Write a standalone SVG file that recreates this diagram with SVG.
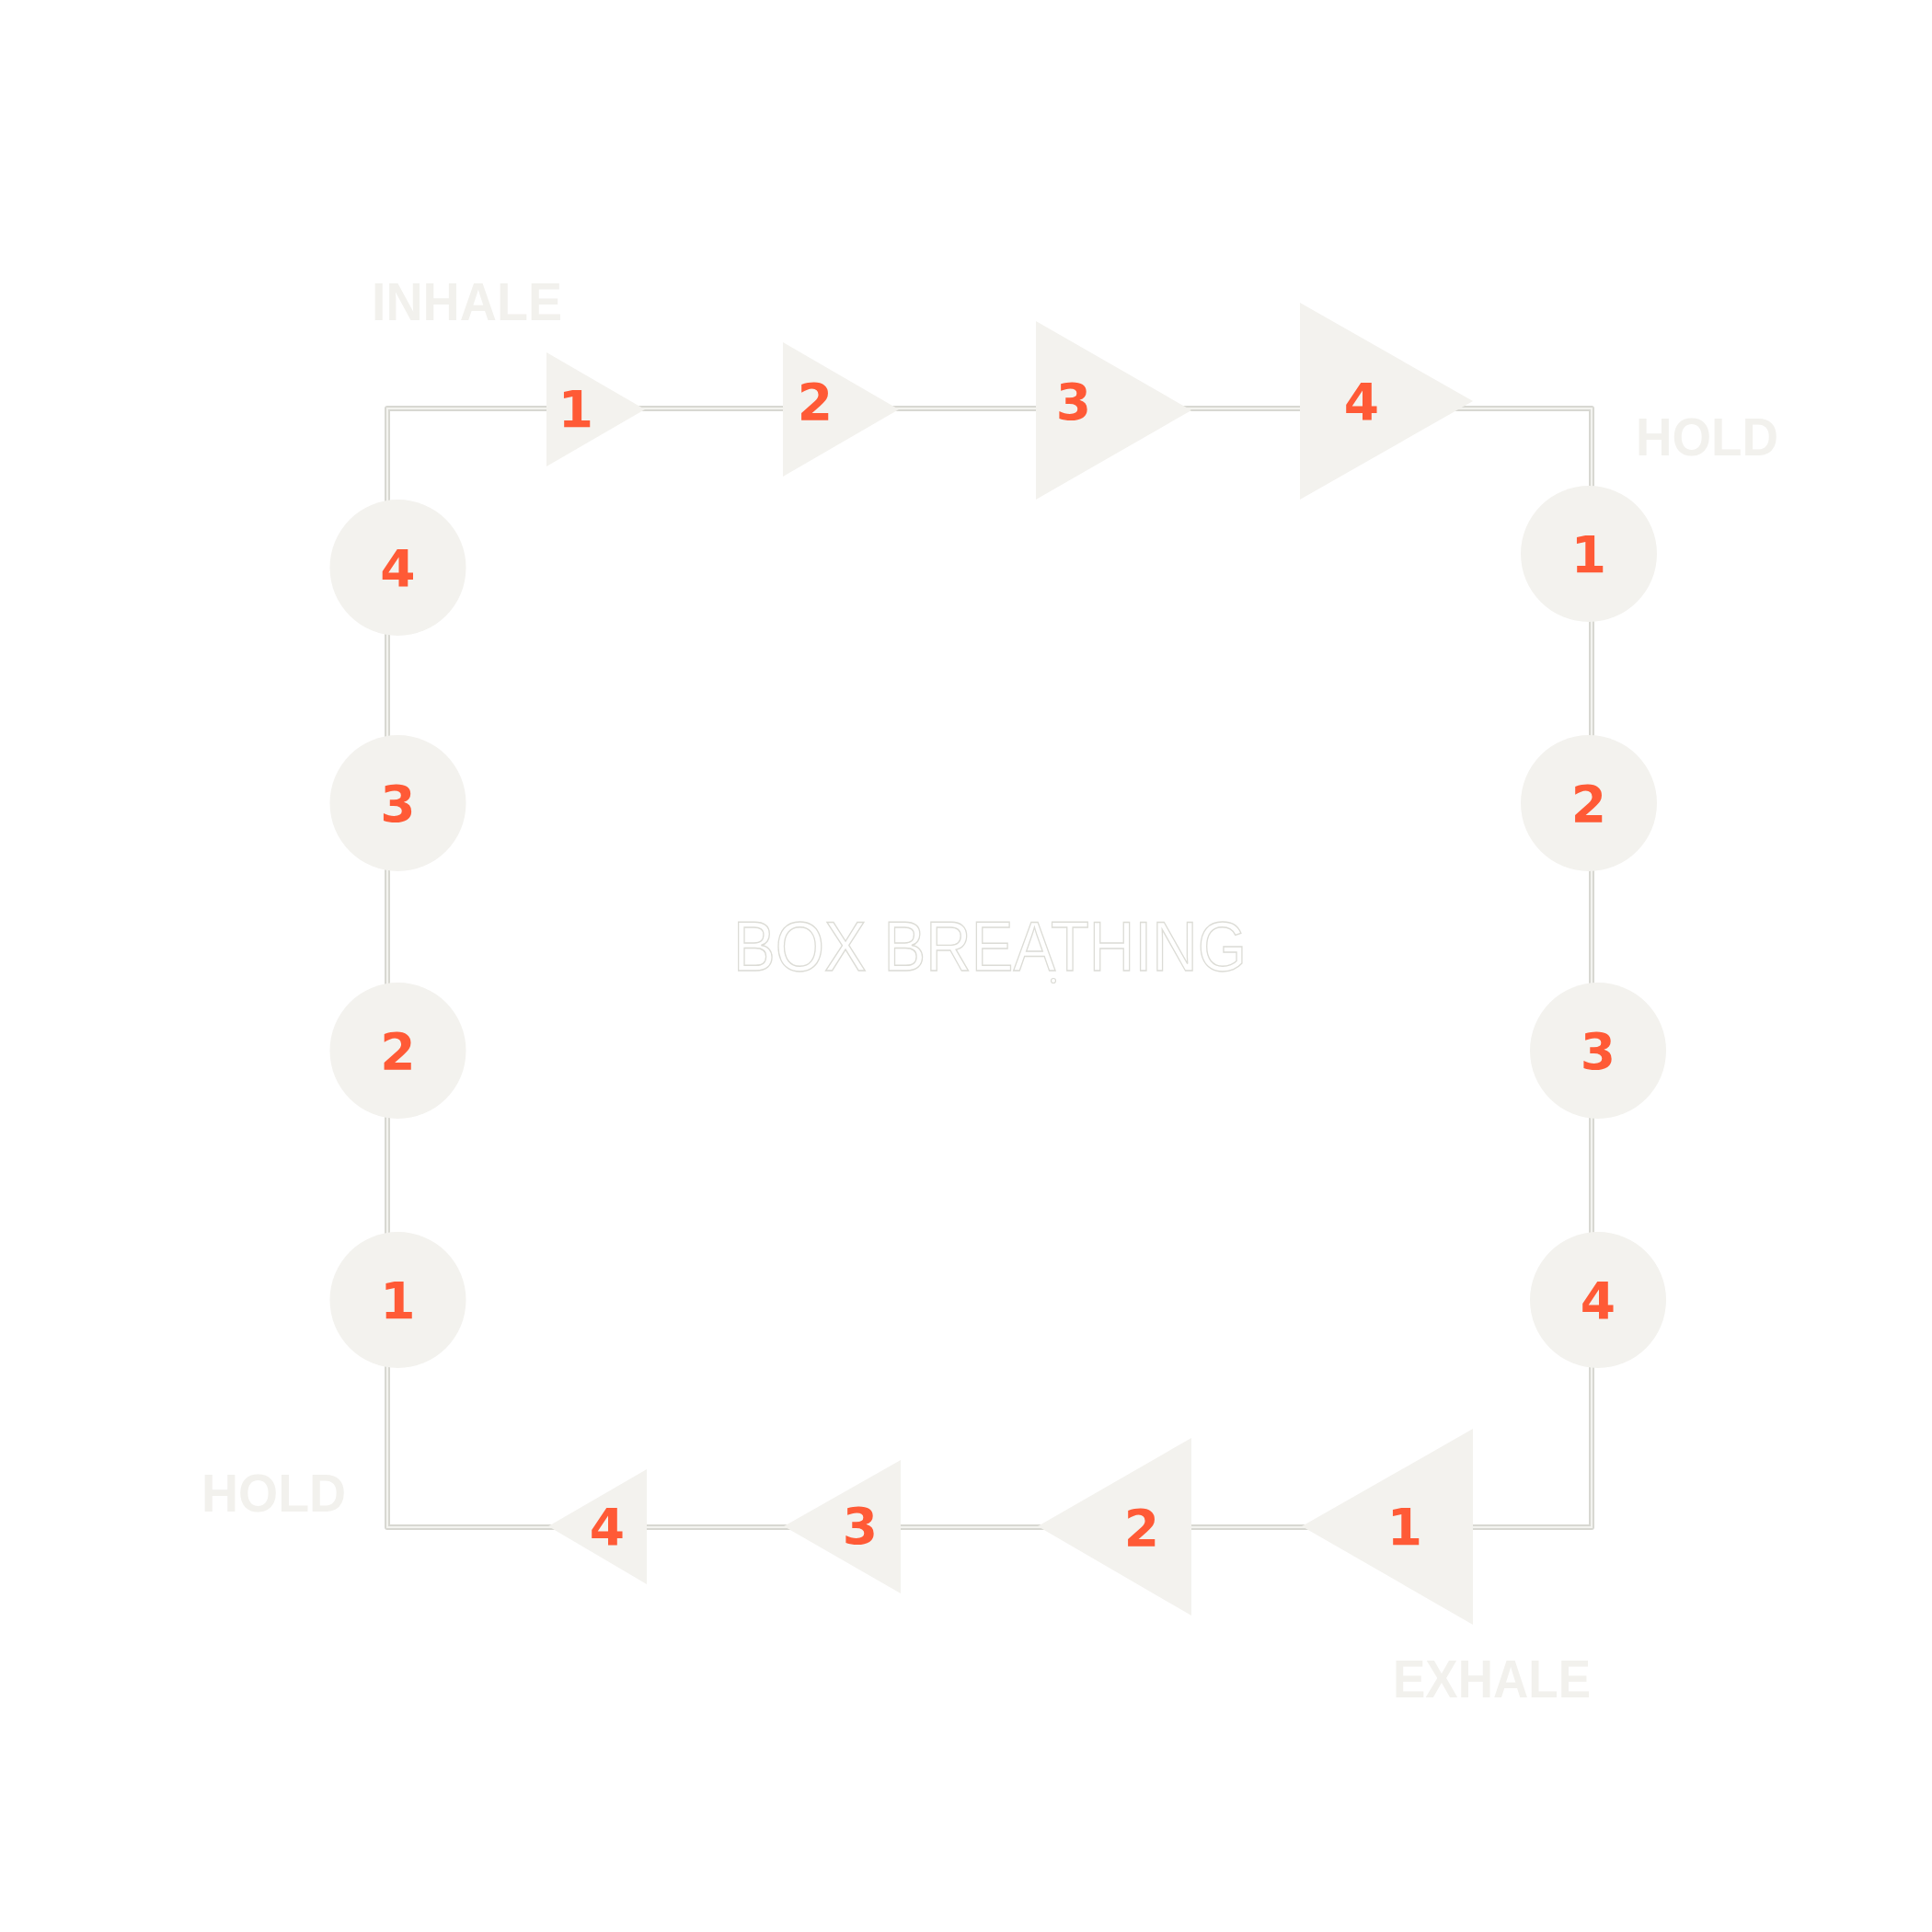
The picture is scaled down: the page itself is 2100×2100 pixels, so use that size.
<svg xmlns="http://www.w3.org/2000/svg" width="2100" height="2100" viewBox="0 0 2100 2100">
<style>
.conn-o{fill:none;stroke:#d8d8d2;stroke-width:6;stroke-linejoin:round}
.conn-i{fill:none;stroke:#f3f3ef;stroke-width:2}
.shape{fill:#f3f2ee}
.num{font-family:"DejaVu Sans",sans-serif;font-weight:bold;font-size:55px;fill:#ff5a36;text-anchor:middle}
.lbl{font-family:"Liberation Sans",Arial,sans-serif;font-weight:bold;font-size:57px;fill:#f2f1ed}
.title{font-family:"Liberation Sans",Arial,sans-serif;font-size:76px;fill:#ffffff;stroke:#dcdcd6;stroke-width:1.4}
</style>
<rect width="2100" height="2100" fill="#ffffff"/>
<g id="connectors">
<path class="conn-o" d="M421,1660 L421,444 L1730,444 L1730,1660 Z"/>
<path class="conn-i" d="M421,1660 L421,444 L1730,444 L1730,1660 Z"/>
</g>
<g id="inhale-1"><polygon class="shape" points="594,383 594,507 701,445"/><text class="num" x="626" y="464">1</text></g>
<g id="inhale-2"><polygon class="shape" points="851,372 851,518 977,445"/><text class="num" x="886" y="456">2</text></g>
<g id="inhale-3"><polygon class="shape" points="1126,349 1126,543 1295,446"/><text class="num" x="1167" y="456">3</text></g>
<g id="inhale-4"><polygon class="shape" points="1413,329 1413,543 1601,436"/><text class="num" x="1480" y="456">4</text></g>
<g id="hold1-1"><circle class="shape" cx="1727" cy="602" r="74"/><text class="num" x="1727" y="622">1</text></g>
<g id="hold1-2"><circle class="shape" cx="1727" cy="873" r="74"/><text class="num" x="1727" y="893">2</text></g>
<g id="hold1-3"><circle class="shape" cx="1737" cy="1142" r="74"/><text class="num" x="1737" y="1162">3</text></g>
<g id="hold1-4"><circle class="shape" cx="1737" cy="1413" r="74"/><text class="num" x="1737" y="1433">4</text></g>
<g id="exhale-1"><polygon class="shape" points="1601,1553 1601,1766 1415,1659"/><text class="num" x="1527" y="1679">1</text></g>
<g id="exhale-2"><polygon class="shape" points="1295,1563 1295,1756 1128,1659"/><text class="num" x="1241" y="1680">2</text></g>
<g id="exhale-3"><polygon class="shape" points="979,1587 979,1732 852,1659"/><text class="num" x="935" y="1678">3</text></g>
<g id="exhale-4"><polygon class="shape" points="703,1597 703,1722 596,1659"/><text class="num" x="660" y="1679">4</text></g>
<g id="hold2-1"><circle class="shape" cx="432.5" cy="1413" r="74"/><text class="num" x="432.5" y="1433">1</text></g>
<g id="hold2-2"><circle class="shape" cx="432.5" cy="1142" r="74"/><text class="num" x="432.5" y="1162">2</text></g>
<g id="hold2-3"><circle class="shape" cx="432.5" cy="873" r="74"/><text class="num" x="432.5" y="893">3</text></g>
<g id="hold2-4"><circle class="shape" cx="432.5" cy="617" r="74"/><text class="num" x="432.5" y="637">4</text></g>
<g id="labels">
<text class="lbl" x="404" y="348" textLength="207" lengthAdjust="spacingAndGlyphs">INHALE</text>
<text class="lbl" x="1778" y="495" textLength="155" lengthAdjust="spacingAndGlyphs">HOLD</text>
<text class="lbl" x="1514" y="1845" textLength="215" lengthAdjust="spacingAndGlyphs">EXHALE</text>
<text class="lbl" x="219" y="1643" textLength="157" lengthAdjust="spacingAndGlyphs">HOLD</text>
</g>
<g id="title">
<text class="title" x="797" y="1055" textLength="558" lengthAdjust="spacingAndGlyphs">BOX BREATHING</text>
<circle cx="1145" cy="1066" r="2.5" fill="none" stroke="#dcdcd6" stroke-width="1.2"/>
</g>
</svg>
